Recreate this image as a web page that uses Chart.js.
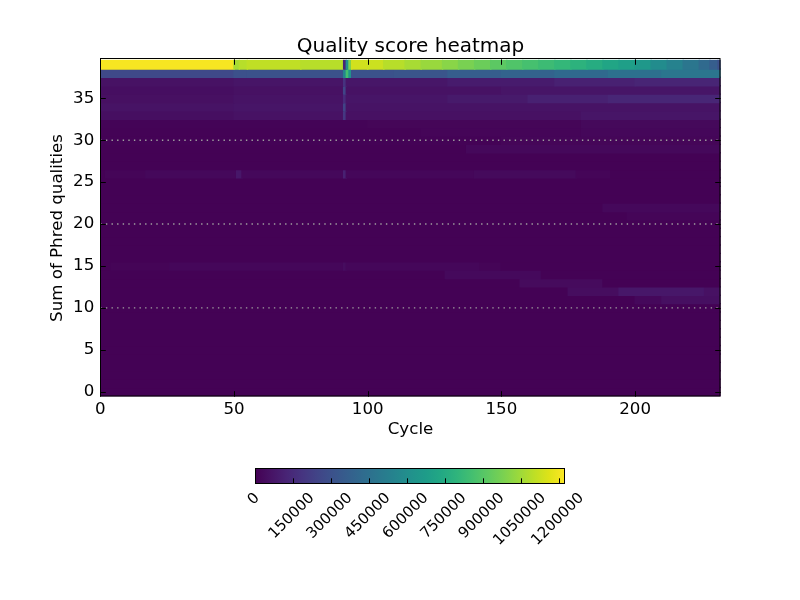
<!DOCTYPE html>
<html>
<head>
<meta charset="utf-8">
<script src="https://cdn.jsdelivr.net/npm/chart.js@4.4.1/dist/chart.umd.min.js"></script>
<style>
  html, body { margin: 0; padding: 0; background: #fff; }
  #wrap { position: relative; width: 800px; height: 600px; }
  #wrap canvas { position: absolute; left: 0; top: 0; }
</style>
</head>
<body>
<div id="wrap">
  <canvas id="heat" width="800" height="600"></canvas>
  <canvas id="cbar" width="800" height="600"></canvas>
</div>
<script>
// axes / ticks
const cycleMax = 232;
const qualityMin = 0;
const qualityMax = 39;
const cycleTicks = [0, 50, 100, 150, 200];
const qualityTicks = [0, 5, 10, 15, 20, 25, 30, 35];
const countTicks = [0, 150000, 300000, 450000, 600000, 750000, 900000, 1050000, 1200000];
const countMax = 1222500;
const gridLevels = [10, 20, 30];

// read counts per row, as [fromCycle, toCycle, count]; gaps are baseCount
const baseCount = 3000;
const q39 = [
  [0, 50, 1210000], [50, 52, 1063000], [52, 55, 1090000], [55, 75, 1105000],
  [75, 91, 1090000], [91, 92, 125000], [92, 93, 610000], [93, 94, 980000],
  [94, 100, 1137000], [100, 106, 1125000], [106, 114, 1090000], [114, 120, 1062000],
  [120, 128, 1035000], [128, 134, 1005000], [134, 140, 975000], [140, 146, 945000],
  [146, 152, 912000], [152, 158, 885000], [158, 164, 860000], [164, 170, 835000],
  [170, 176, 810000], [176, 182, 785000], [182, 188, 755000], [188, 194, 720000],
  [194, 200, 690000], [200, 206, 650000], [206, 212, 590000], [212, 218, 540000],
  [218, 224, 480000], [224, 228, 420000], [228, 231, 360000], [231, 232, 300000]
];
const q38 = [
  [0, 50, 268000], [50, 55, 300000], [55, 91, 305000], [91, 92, 550000],
  [92, 93, 850000], [93, 94, 640000], [94, 110, 305000], [110, 130, 320000],
  [130, 150, 360000], [150, 170, 385000], [170, 190, 415000], [190, 210, 450000],
  [210, 232, 480000]
];
const q37 = [[0, 50, 58000], [50, 91, 68000], [91, 92, 180000], [92, 130, 72000], [130, 170, 90000], [170, 200, 110000], [200, 232, 125000]];
const q36 = [[0, 50, 45000], [50, 91, 55000], [91, 92, 250000], [92, 150, 58000], [150, 232, 70000]];
const q35 = [[0, 50, 52000], [50, 91, 62000], [91, 92, 150000], [92, 130, 68000], [130, 160, 85000], [160, 190, 110000], [190, 232, 130000]];
const q34 = [[0, 50, 60000], [50, 91, 70000], [91, 92, 240000], [92, 232, 62000]];
const q33 = [[0, 50, 48000], [50, 91, 58000], [91, 92, 200000], [92, 180, 55000], [180, 232, 68000]];
const q32 = [[0, 100, 9000], [100, 180, 16000], [180, 232, 26000]];
const q31 = [[0, 120, 7000], [120, 180, 14000], [180, 232, 22000]];
const q30 = [[0, 150, 6000], [150, 232, 16000]];
const q29 = [[0, 137, 5000], [137, 232, 24000]];
const q26 = [[2, 17, 14000], [17, 51, 24000], [51, 53, 75000], [53, 91, 24000], [91, 92, 110000], [92, 140, 21000], [140, 178, 30000], [178, 191, 14000]];
const q22 = [[188, 232, 24000]];
const q21 = [[197, 232, 15000]];
const q15 = [[4, 26, 12000], [26, 91, 22000], [91, 92, 40000], [92, 142, 22000], [142, 150, 12000]];
const q14 = [[129, 165, 28000]];
const q13 = [[157, 188, 34000]];
const q12 = [[175, 194, 40000], [194, 226, 75000], [226, 232, 55000]];
const q11 = [[200, 210, 25000], [210, 232, 48000]];

const rowSegments = {
  39: q39, 38: q38, 37: q37, 36: q36, 35: q35, 34: q34, 33: q33, 32: q32,
  31: q31, 30: q30, 29: q29, 26: q26, 22: q22, 21: q21, 15: q15, 14: q14,
  13: q13, 12: q12, 11: q11
};

const VIRIDIS = [
  '#440154', '#471365', '#482475', '#463480', '#414487', '#3b528b', '#355f8d',
  '#2f6c8e', '#2a788e', '#25848e', '#21918c', '#1e9c89', '#22a884', '#2fb47c',
  '#44bf70', '#5ec962', '#7ad151', '#9bd93c', '#bddf26', '#dfe318', '#fde725'
];

function hexRgb(h) {
  return [parseInt(h.slice(1, 3), 16), parseInt(h.slice(3, 5), 16), parseInt(h.slice(5, 7), 16)];
}
const viridisRgb = VIRIDIS.map(hexRgb);

function viridis(t) {
  t = Math.max(0, Math.min(1, t));
  const p = t * (viridisRgb.length - 1);
  const i = Math.min(Math.floor(p), viridisRgb.length - 2);
  const f = p - i;
  const a = viridisRgb[i], b = viridisRgb[i + 1];
  const c = a.map((v, k) => Math.round(v + (b[k] - v) * f));
  return `rgb(${c[0]},${c[1]},${c[2]})`;
}

// one floating bar per run of cells, gaps filled with the base count
function buildCells() {
  const cells = [];
  for (let q = qualityMin; q <= qualityMax; q++) {
    const segs = (rowSegments[q] || []).slice().sort((a, b) => a[0] - b[0]);
    let pos = 0;
    segs.forEach(([from, to, count]) => {
      if (from > pos) cells.push({ y: q, x: [pos, from], v: baseCount });
      cells.push({ y: q, x: [from, to], v: count });
      pos = to;
    });
    if (pos < cycleMax) cells.push({ y: q, x: [pos, cycleMax], v: baseCount });
  }
  return cells;
}

const FONT = "'DejaVu Sans', sans-serif";
Chart.defaults.font.family = FONT;
Chart.defaults.color = '#000';

const frameTicks = {
  id: 'frameTicks',
  afterDatasetsDraw(chart) {
    const { ctx, chartArea: a, scales: { x, y } } = chart;
    const len = 5.5;
    ctx.save();
    ctx.strokeStyle = '#000';
    ctx.lineWidth = 1;
    ctx.beginPath();
    x.ticks.forEach(t => {
      const px = Math.round(x.getPixelForValue(t.value)) + 0.5;
      ctx.moveTo(px, a.bottom); ctx.lineTo(px, a.bottom - len);
      ctx.moveTo(px, a.top); ctx.lineTo(px, a.top + len);
    });
    y.ticks.forEach(t => {
      const py = Math.round(y.getPixelForValue(t.value)) + 0.5;
      ctx.moveTo(a.left, py); ctx.lineTo(a.left + len, py);
      ctx.moveTo(a.right, py); ctx.lineTo(a.right - len, py);
    });
    ctx.stroke();
    ctx.strokeRect(Math.round(a.left) + 0.5, Math.round(a.top) - 0.5,
      Math.round(a.right - a.left) - 0.5, Math.round(a.bottom - a.top) + 0.5);
    ctx.restore();
  }
};

const tickFont = { family: FONT, size: 16.67 };

new Chart(document.getElementById('heat'), {
  type: 'bar',
  data: {
    datasets: [
      ...gridLevels.map(q => ({
        type: 'line',
        data: [{ x: 0, y: q }, { x: cycleMax, y: q }],
        borderColor: '#a0a0a0',
        borderWidth: 1.4,
        borderDash: [1.4, 4.2],
        pointRadius: 0,
        order: 0
      })),
      {
        type: 'bar',
        data: buildCells(),
        backgroundColor: c => viridis(c.raw.v / countMax),
        borderWidth: 0,
        inflateAmount: 0.7,
        clip: 0,
        categoryPercentage: 1,
        barPercentage: 1,
        grouped: false,
        order: 1
      }
    ]
  },
  options: {
    indexAxis: 'y',
    responsive: false,
    animation: false,
    events: [],
    layout: { padding: { left: 48, right: 79.3, top: 0, bottom: 160 } },
    plugins: {
      legend: { display: false },
      tooltip: { enabled: false },
      title: {
        display: true,
        fullSize: false,
        text: 'Quality score heatmap',
        color: '#000',
        font: { family: FONT, size: 20, weight: 'normal', lineHeight: 1 },
        padding: { top: 37, bottom: 2.3 }
      }
    },
    scales: {
      x: {
        type: 'linear',
        min: 0,
        max: cycleMax,
        offset: false,
        grid: { display: false, drawTicks: false },
        border: { display: false },
        afterBuildTicks: s => { s.ticks = cycleTicks.map(v => ({ value: v })); },
        afterFit: s => { s.height = 43.3; },
        ticks: { padding: 3, font: tickFont, color: '#000', maxRotation: 0, callback: v => String(v) },
        title: { display: true, text: 'Cycle', font: tickFont, color: '#000', padding: 0 }
      },
      y: {
        type: 'linear',
        min: -0.6,
        max: 39.65,
        offset: false,
        grid: { display: false, drawTicks: false },
        border: { display: false },
        afterBuildTicks: s => { s.ticks = qualityTicks.map(v => ({ value: v })); },
        afterFit: s => { s.width = 52.3; },
        ticks: { padding: 6, font: tickFont, color: '#000', callback: v => String(v) },
        title: { display: true, text: 'Sum of Phred qualities', font: tickFont, color: '#000', padding: 0 }
      }
    }
  },
  plugins: [frameTicks]
});

// colour bar
const cbarFont = { family: FONT, size: 15 };
const colorbarAxis = {
  id: 'colorbarAxis',
  afterDatasetsDraw(chart) {
    const { ctx, chartArea: a, scales: { x } } = chart;
    ctx.save();
    ctx.strokeStyle = '#000';
    ctx.lineWidth = 1;
    ctx.beginPath();
    countTicks.forEach(v => {
      const px = Math.round(x.getPixelForValue(v)) + 0.5;
      ctx.moveTo(px, a.bottom); ctx.lineTo(px, a.bottom - 5);
    });
    ctx.stroke();
    ctx.strokeRect(Math.round(a.left) + 0.5, Math.round(a.top) + 0.5,
      Math.round(a.right - a.left) - 1, Math.round(a.bottom - a.top));
    ctx.fillStyle = '#000';
    ctx.font = `${cbarFont.size}px ${cbarFont.family}`;
    ctx.textAlign = 'center';
    ctx.textBaseline = 'middle';
    const s = Math.SQRT1_2;
    const capH = cbarFont.size * 0.73;
    countTicks.forEach(v => {
      const label = String(v);
      const w = ctx.measureText(label).width;
      const cx = x.getPixelForValue(v) - 1.5;
      const cy = a.bottom + 8.5 + (w + capH) * s / 2;
      ctx.save();
      ctx.translate(cx, cy);
      ctx.rotate(-Math.PI / 4);
      ctx.fillText(label, 0, 0);
      ctx.restore();
    });
    ctx.restore();
  }
};

new Chart(document.getElementById('cbar'), {
  type: 'bar',
  data: {
    labels: [''],
    datasets: [{
      data: [[0, countMax]],
      backgroundColor: c => {
        const chart = c.chart;
        if (!chart.chartArea) return 'transparent';
        const x = chart.scales.x;
        const g = chart.ctx.createLinearGradient(x.getPixelForValue(0), 0, x.getPixelForValue(countMax), 0);
        VIRIDIS.forEach((col, i) => g.addColorStop(i / (VIRIDIS.length - 1), col));
        return g;
      },
      borderWidth: 0,
      categoryPercentage: 1,
      barPercentage: 1
    }]
  },
  options: {
    indexAxis: 'y',
    responsive: false,
    animation: false,
    events: [],
    layout: { padding: { left: 255.3, right: 235, top: 468.3, bottom: 116.7 } },
    plugins: { legend: { display: false }, tooltip: { enabled: false } },
    scales: {
      x: { type: 'linear', display: false, min: 0, max: countMax },
      y: { type: 'category', display: false }
    }
  },
  plugins: [colorbarAxis]
});
</script>
</body>
</html>
